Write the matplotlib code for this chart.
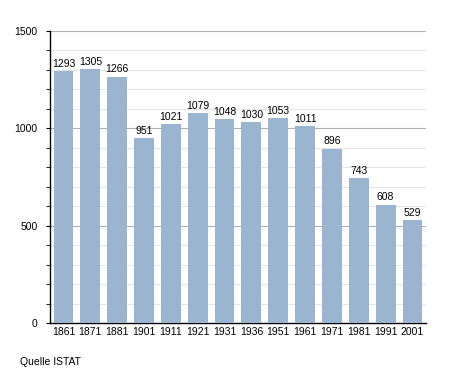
import matplotlib
matplotlib.use("Agg")
import matplotlib.pyplot as plt
import numpy as np

plt.rcParams["font.family"] = ["Liberation Sans", "DejaVu Sans"]

anni = ["1861", "1871", "1881", "1901", "1911", "1921", "1931",
        "1936", "1951", "1961", "1971", "1981", "1991", "2001"]
abitanti = [1293, 1305, 1266, 951, 1021, 1079, 1048,
            1030, 1053, 1011, 896, 743, 608, 529]

fig = plt.figure(figsize=(4.55, 3.73), dpi=100)
ax = fig.add_axes([0.11, 0.134, 0.826, 0.783])

x = np.arange(len(anni))
ax.bar(x, abitanti, width=0.74, color="#9bb4cf", zorder=3)

for xi, v in zip(x, abitanti):
    ax.text(xi, v + 12, str(v), ha="center", va="bottom", fontsize=7.5, zorder=4)

ax.set_xlim(-0.5, len(anni) - 0.5)
ax.set_ylim(0, 1500)
ax.set_yticks([0, 500, 1000, 1500])
ax.set_yticks(np.arange(0, 1501, 100), minor=True)
ax.set_xticks(x)
ax.set_xticklabels(anni)
ax.tick_params(axis="x", length=0, labelsize=7.5, pad=3)
ax.tick_params(axis="y", which="major", length=3, labelsize=7.5, pad=6)
ax.tick_params(axis="y", which="minor", length=3)

ax.grid(axis="y", which="minor", color="#e6e6e6", linewidth=0.8, zorder=0)
ax.grid(axis="y", which="major", color="#b0b0b0", linewidth=0.8, zorder=1)

for s in ["top", "right"]:
    ax.spines[s].set_visible(False)
ax.spines["left"].set_linewidth(1.0)
ax.spines["bottom"].set_linewidth(1.0)

fig.text(0.044, 0.022, "Quelle ISTAT", fontsize=7.5)

fig.savefig("out.png", dpi=100)
